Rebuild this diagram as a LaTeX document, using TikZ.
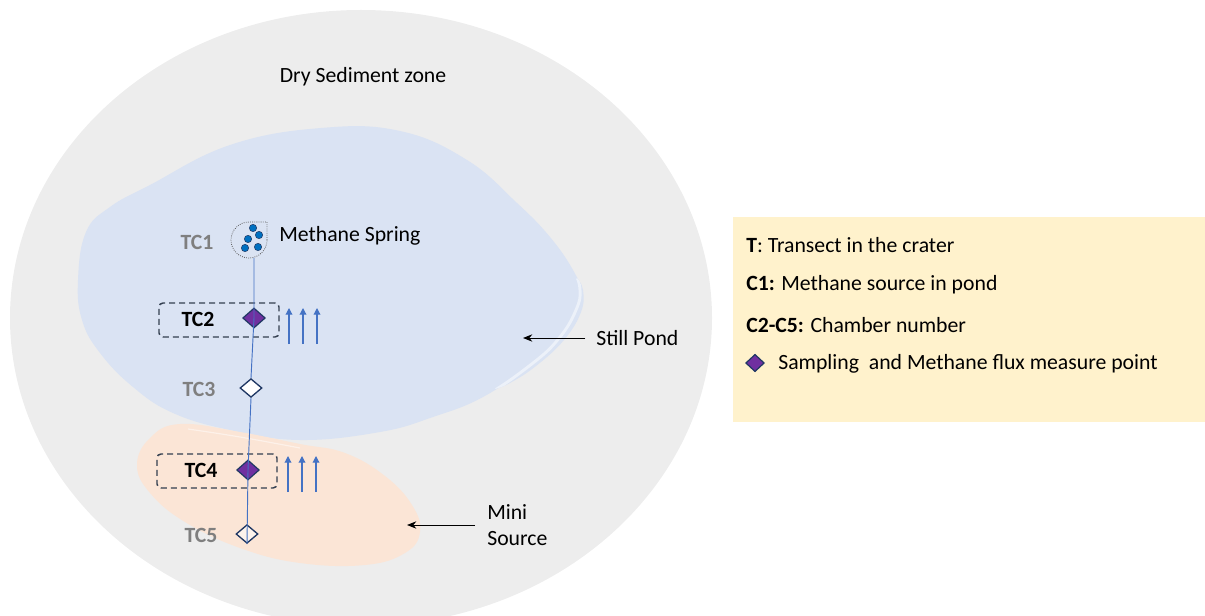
\documentclass[tikz,border=0pt]{standalone}
\usepackage{fontspec}
\setmainfont{Carlito}
\usetikzlibrary{shapes.geometric,arrows.meta}
\definecolor{graybg}{HTML}{EDEDED}
\definecolor{pondblue}{HTML}{DAE3F3}
\definecolor{minior}{HTML}{FBE5D6}
\definecolor{legendbg}{HTML}{FFF2CC}
\definecolor{fluxblue}{HTML}{4472C4}
\definecolor{navy}{HTML}{203864}
\definecolor{purp}{HTML}{7030A0}
\definecolor{tcgraycol}{HTML}{7F7F7F}
\definecolor{dashcol}{HTML}{333F50}
\definecolor{dotblue}{HTML}{0070C0}
\tikzset{
  lbl/.style={font=\fontsize{16.3}{19.5}\selectfont, text=black, inner sep=0pt},
  tcgray/.style={font=\bfseries\fontsize{16.3}{19}\selectfont, text=tcgraycol, inner sep=0pt},
  tcblack/.style={font=\bfseries\fontsize{16.3}{19}\selectfont, text=black, inner sep=0pt},
  fluxpt/.style={diamond, draw=navy, fill=purp, line width=0.9pt, minimum width=17pt, minimum height=15pt, inner sep=0pt},
  emptypt/.style={diamond, draw=navy, fill=white, line width=1pt, minimum width=16.5pt, minimum height=14pt, inner sep=0pt},
  chamber/.style={draw=dashcol, dashed, dash pattern=on 4.5pt off 3pt, line width=1.1pt, rounded corners=3pt, minimum width=90pt, minimum height=25.5pt, inner sep=0pt},
  flux/.style={draw=fluxblue, line width=0.9pt, -{Triangle[length=5pt,width=5pt]}},
  pointer/.style={draw=black, line width=0.7pt, -{Stealth[length=7pt,width=5.5pt]}},
  transect/.style={draw=fluxblue, line width=0.7pt},
  bubble/.style={circle, fill=dotblue, draw=navy, line width=0.4pt, minimum size=5.5pt, inner sep=0pt},
}
\begin{document}
\begin{tikzpicture}[x=0.75pt,y=-0.75pt]
\useasboundingbox (0,0) rectangle (1205,616);
\clip (0,0) rectangle (1205,616);
% dry sediment zone
\fill[graybg] (361,318) ellipse [x radius=351, y radius=308];
% still pond: outer sliver, body, and light gap between them
\fill[pondblue] plot[smooth, tension=0.7] coordinates {
 (577,278) (583,290) (581,312) (564,340) (536,366) (510,383) (495,389)} -- cycle;
\fill[pondblue] plot[smooth cycle, tension=0.7] coordinates {
 (321,128) (400,131) (467,160) (517,203) (550,237) (573,270) (580,290)
 (576,310) (560,337) (533,363) (483,397) (433,417) (380,432) (300,440)
 (230,430) (173,413) (133,387) (100,353) (82,320) (78,280) (86,232)
 (110,207) (150,185) (230,145)};
\begin{scope}
\clip plot[smooth, tension=0.7] coordinates {
 (577,278) (583,290) (581,312) (564,340) (536,366) (510,383) (495,389)} -- cycle;
\draw[white!50!pondblue, line width=2.2pt] plot[smooth, tension=0.7] coordinates {
 (550,237) (573,270) (580,290) (576,310) (560,337) (533,363) (483,397) (433,417)};
\end{scope}
% mini source
\fill[minior] plot[smooth cycle, tension=0.7] coordinates {
 (180,424) (240,432) (300,444) (345,453) (385,476) (412,505) (420,532)
 (405,553) (365,565) (300,563) (240,548) (185,522) (150,493) (137,465) (150,438)};
\draw[white!45!minior, line width=0.9pt] plot[smooth, tension=0.7] coordinates {
 (188,429) (240,437) (300,448)};
% legend background
\fill[legendbg] (733,217) rectangle (1205,422);

% title
\node[lbl] (dry) at (363,77) {Dry Sediment zone};

% methane spring
\draw[densely dotted, draw=black!65, line width=0.6pt]
  (267,240) -- (267,222) -- (249,222) arc[start angle=270, end angle=0, radius=18] -- cycle;
\node[bubble] (b1) at (253,228) {};
\node[bubble] (b2) at (259,235) {};
\node[bubble] (b3) at (248,239) {};
\node[bubble] (b4) at (245,248) {};
\node[bubble] (b5) at (258,247) {};
\coordinate (spring) at (254,258);
\node[lbl, anchor=west] (springlbl) at (279,236) {Methane Spring};
\node[tcgray] (tc1lbl) at (197,242) {TC1};

% chambers
\node[chamber] (box2) at (219,320) {};
\node[chamber] (box4) at (217,471) {};
\node[tcblack] (tc2lbl) at (198,319) {TC2};
\node[tcblack] (tc4lbl) at (201,470) {TC4};
\node[tcgray] (tc3lbl) at (199,389) {TC3};
\node[tcgray] (tc5lbl) at (201,535) {TC5};

% transect points
\node[fluxpt] (tc2) at (254,318) {};
\node[emptypt] (tc3) at (251,388) {};
\node[fluxpt] (tc4) at (248,470) {};
\node[emptypt, fill opacity=0.55] (tc5) at (247,534) {};
\draw[transect] (spring) -- (tc2.center) -- (tc3.north);
\draw[transect] (tc3.south) -- (tc4.center) -- (tc5.south);

% flux arrows
\foreach \xx in {289,303,317} {
  \draw[flux] (\xx,344) -- (\xx,308);
  \draw[flux] (\xx-1,492) -- (\xx-1,456);
}

% pointers
\node[lbl, anchor=west] (stillpond) at (596,338) {Still Pond};
\coordinate (pondtip) at (523,338);
\draw[pointer, shorten <=8pt] (stillpond.west) -- (pondtip);
\node[lbl, anchor=west, align=left] (minisrc) at (487,525) {Mini\\Source};
\coordinate (minitip) at (407,525);
\draw[pointer, shorten <=9pt] (minisrc.west) -- (minitip);

% legend
\node[lbl, anchor=west] (lg1) at (746,245) {\textbf{T}: Transect in the crater};
\node[lbl, anchor=west] (lg2) at (746,285) {\textbf{C1:} Methane source in pond};
\node[lbl, anchor=west] (lg3) at (746,325) {\textbf{C2-C5:} Chamber number};
\node[fluxpt, minimum width=14pt, minimum height=13pt] (lgd) at (755,363) {};
\node[lbl, anchor=west] (lg4) at (778,364) {Sampling\ \ and Methane flux measure point};
\end{tikzpicture}
\end{document}
